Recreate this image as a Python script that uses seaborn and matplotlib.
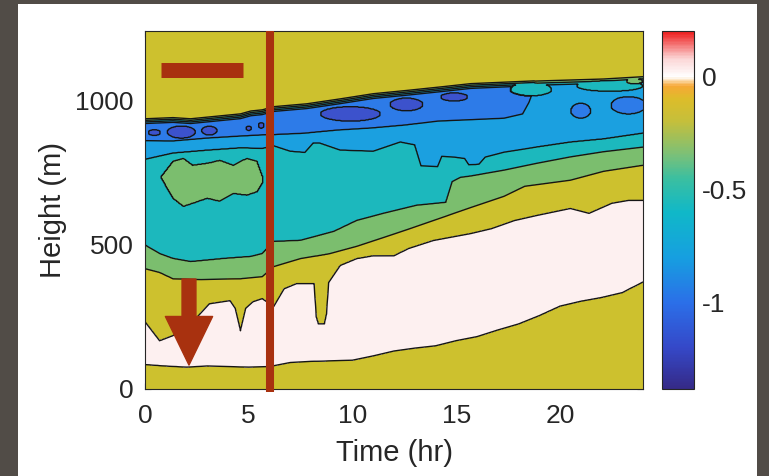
import numpy as np
import matplotlib
matplotlib.use("Agg")
import matplotlib.pyplot as plt
import seaborn as sns
from matplotlib.colors import LinearSegmentedColormap, Normalize
from matplotlib.patches import Rectangle, FancyArrowPatch, ArrowStyle
from matplotlib.cm import ScalarMappable

# --- layer boundaries: time (hr) / height (m) ---

white_bot_t = [0, 1, 2, 3, 4, 5, 6, 7, 8, 9, 10, 11, 12, 13, 14, 15, 16, 17, 18, 19, 20, 21, 22, 23, 24]
white_bot_z = [85, 80, 76, 80, 78, 76, 78, 92, 96, 98, 100, 115, 132, 142, 150, 168, 182, 205, 226, 255, 288, 305, 318, 335, 372]

white_top_t = [0, 0.7, 1.35, 2.3, 3.1, 4.1, 4.35, 4.6, 4.85, 5.2, 5.65, 6.2, 6.7, 7.3, 8.15, 8.25, 8.35,
               8.65, 8.75, 8.85, 9.4, 10.2, 11, 12, 12.7, 13.9, 15.7, 16.7, 17.8, 18.9, 20.5, 21.4, 22.5, 23.3, 24]
white_top_z = [233, 167, 185, 233, 296, 307, 280, 202, 280, 303, 314, 286, 348, 366, 366, 250, 226,
               226, 260, 370, 429, 453, 463, 463, 488, 516, 540, 557, 585, 603, 627, 610, 645, 655, 655]

green_bot_t = [0, 0.7, 1.35, 2.7, 4.6, 5.65, 6.2, 7.5, 8.9, 10.2, 11.5, 12.7, 14.3, 15.7, 17.3, 18.3, 20.5, 22.1, 24]
green_bot_z = [418, 405, 383, 380, 383, 390, 425, 453, 470, 495, 526, 555, 595, 630, 669, 704, 725, 756, 777]

teal_bot_t = [0, 0.7, 1.35, 2.2, 3.8, 5.1, 5.65, 6.2, 7.5, 9.1, 10.2, 11.5, 13.1, 14.5, 14.8, 15.2, 15.7,
              17.3, 18.9, 20.5, 22.1, 24]
teal_bot_z = [500, 470, 453, 442, 453, 460, 470, 512, 516, 547, 585, 610, 638, 648, 720, 735, 740,
              760, 784, 806, 824, 840]

lblue_bot_t = [0, 1.35, 3, 4.6, 5.65, 6.2, 7, 7.7, 8.1, 8.4, 9.4, 11, 12.3, 13.0, 13.3, 14.1, 14.3, 14.9,
               15.4, 15.6, 16.1, 16.4, 17.3, 18.9, 20.5, 22.1, 24]
lblue_bot_z = [798, 820, 830, 838, 836, 845, 826, 822, 855, 855, 830, 826, 858, 848, 775, 772, 808, 805,
               800, 778, 780, 805, 822, 840, 857, 868, 888]

blue_bot_t = [0, 1.35, 3, 4.6, 5.65, 6.2, 7.7, 9.3, 10.9, 12.5, 14.1, 15.7, 17.3, 18.2, 18.5, 18.75]
blue_bot_z = [862, 861, 871, 878, 882, 883, 888, 899, 906, 916, 930, 935, 940, 955, 995, 1045]
blue_end = 18.75

top_t = [0, 1.35, 2.2, 4.6, 5.1, 5.65, 6.2, 7.8, 9.4, 11, 12.7, 14.3, 15.7, 18.9, 22.1, 24]
top_z = [941, 945, 941, 958, 968, 972, 983, 993, 1010, 1028, 1040, 1052, 1063, 1073, 1080, 1088]

# green blob inside the teal layer (left)
blob_t = [0.8, 1.35, 1.85, 2.3, 3.0, 3.6, 4.25, 4.9, 5.4, 5.65]
blob_lo = [730, 662, 634, 645, 662, 652, 679, 673, 685, 715]
blob_hi = [740, 791, 801, 777, 784, 794, 777, 801, 791, 740]

# small pockets: centre time, centre height, half width (hr), half height (m), value
pocket_t = [0.45, 1.75, 3.1, 5.0, 5.6, 9.9, 12.6, 14.9, 21.0, 23.3, 18.6, 22.4, 23.6]
pocket_z = [890, 892, 897, 905, 915, 955, 988, 1014, 966, 985, 1040, 1052, 1068]
pocket_w = [0.3, 0.68, 0.37, 0.12, 0.15, 1.45, 0.8, 0.65, 0.48, 0.85, 1.0, 1.6, 0.4]
pocket_h = [10, 21, 15, 8, 10, 25, 22, 14, 26, 30, 22, 18, 8]
pocket_v = [-1.1, -1.1, -1.1, -1.1, -1.1, -1.1, -1.1, -1.1, -0.9, -0.9, -0.5, -0.5, -0.3]

levels = [-1.5, -1.0, -0.8, -0.6, -0.4, -0.2, 0.0, 0.3]
band_colors = ["#3c52cc", "#2d7be8", "#1ba0e0", "#1cb8bd", "#7bbe6e", "#cdc12e", "#fdf0f0"]

cbar_vals = [-1.38, -1.2, -1.0, -0.8, -0.6, -0.45, -0.35, -0.2, -0.1, -0.04, 0.0, 0.08, 0.2]
cbar_cols = ["#352a87", "#3548c8", "#2b6fe8", "#169fe0", "#10b8c8", "#3bbfa0", "#78c07a",
             "#c4bf3c", "#dcbd2a", "#f7a836", "#ffffff", "#fbd6d6", "#ee1c1c"]

red = "#a8310f"
ink = "#262626"

# --- build the field ---
t_grid = np.linspace(0, 24, 481)
z_grid = np.linspace(0, 1243, 623)
T, Z = np.meshgrid(t_grid, z_grid)

b1 = np.interp(t_grid, white_bot_t, white_bot_z)
b2 = np.interp(t_grid, white_top_t, white_top_z)
b3 = np.interp(t_grid, green_bot_t, green_bot_z)
b4 = np.interp(t_grid, teal_bot_t, teal_bot_z)
b5 = np.interp(t_grid, lblue_bot_t, lblue_bot_z)
b6 = np.interp(t_grid, blue_bot_t, blue_bot_z)
bt = np.interp(t_grid, top_t, top_z)

F = np.zeros_like(T)
for j, tj in enumerate(t_grid):
  zs = [0, b1[j], 0.5 * (b1[j] + b2[j]), b2[j], b3[j], b4[j], b5[j]]
  vs = [-0.1, 0.0, 0.15, 0.0, -0.2, -0.4, -0.6]
  if tj <= blue_end:
    zs += [b6[j], bt[j] - 22]
    vs += [-0.8, -0.9]
  else:
    zs += [bt[j] - 22]
    vs += [-0.7]
  zs += [bt[j], 5000]
  vs += [-0.1, -0.1]
  F[:, j] = np.interp(z_grid, zs, vs)

lo = np.interp(t_grid, blob_t, blob_lo)
hi = np.interp(t_grid, blob_t, blob_hi)
in_blob = (T >= blob_t[0]) & (T <= blob_t[-1]) & (Z > lo) & (Z < hi)
F[in_blob] = -0.3

for tc, zc, tw, zh, v in zip(pocket_t, pocket_z, pocket_w, pocket_h, pocket_v):
  inside = ((T - tc) / tw) ** 2 + ((Z - zc) / zh) ** 2 <= 1
  F[inside] = v

# --- figure ---
sns.set_theme(style="white")
plt.rcParams["font.family"] = ["Liberation Sans", "DejaVu Sans"]
plt.rcParams["axes.unicode_minus"] = False
plt.rcParams["contour.negative_linestyle"] = "solid"

fig = plt.figure(figsize=(7.69, 4.76), dpi=100)
fig.patch.set_facecolor("#514c47")
fig.patches.append(Rectangle((18 / 769, 0), 739 / 769, 472 / 476, transform=fig.transFigure,
                             facecolor="white", edgecolor="none", zorder=-10))

ax = fig.add_axes([145 / 769, 87 / 476, 498 / 769, 358 / 476])
ax.contourf(T, Z, F, levels=levels, colors=band_colors)
ax.contour(T, Z, F, levels=levels[1:-1], colors="#151515", linewidths=1.0, linestyles="solid")

ax.set_xlim(0, 24)
ax.set_ylim(0, 1243)
ax.set_xticks([0, 5, 10, 15, 20])
ax.set_yticks([0, 500, 1000])
ax.tick_params(direction="in", length=4, width=0.8, colors=ink, labelsize=19,
               top=True, right=True, bottom=True, left=True)
ax.tick_params(axis="x", pad=11)
ax.tick_params(axis="y", pad=8)
for s in ax.spines.values():
  s.set_color(ink)
  s.set_linewidth(0.8)
ax.set_xlabel("Time (hr)", fontsize=21, color=ink, labelpad=8)
ax.set_ylabel("Height (m)", fontsize=21, color=ink, labelpad=6)

# annotations
ax.plot([6, 6], [-10, 1243], color=red, lw=5.8, solid_capstyle="butt", clip_on=False, zorder=5)
ax.plot([0.77, 4.72], [1106, 1106], color=red, lw=10.8, solid_capstyle="butt", zorder=5)
arrow = FancyArrowPatch((2.12, 382), (2.12, 83),
                        arrowstyle=ArrowStyle.Simple(head_length=3.5, head_width=3.4, tail_width=1.0),
                        mutation_scale=10, color=red, shrinkA=0, shrinkB=0, zorder=5)
ax.add_patch(arrow)

# colorbar
cmap = LinearSegmentedColormap.from_list(
    "cb", [((v - cbar_vals[0]) / (cbar_vals[-1] - cbar_vals[0]), c) for v, c in zip(cbar_vals, cbar_cols)])
cax = fig.add_axes([662 / 769, 87 / 476, 32 / 769, 358 / 476])
sm = ScalarMappable(norm=Normalize(cbar_vals[0], cbar_vals[-1]), cmap=cmap)
cb = fig.colorbar(sm, cax=cax)
cb.set_ticks([-1, -0.5, 0])
cb.set_ticklabels(["-1", "-0.5", "0"])
cb.outline.set_edgecolor(ink)
cb.outline.set_linewidth(0.8)
cax.tick_params(direction="in", length=4, width=0.8, colors=ink, labelsize=19, pad=6)

fig.savefig("out.png", dpi=100, facecolor=fig.get_facecolor())
